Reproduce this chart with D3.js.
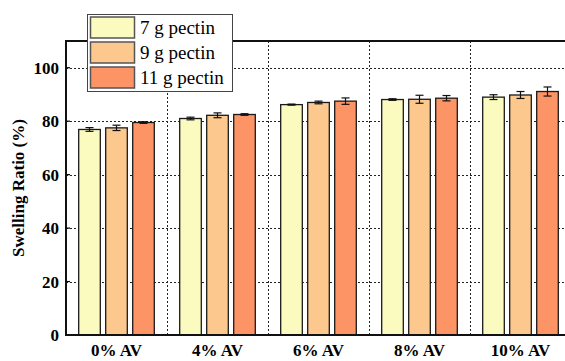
<!DOCTYPE html>
<html>
<head>
<meta charset="utf-8">
<script src="https://cdn.jsdelivr.net/npm/d3@7"></script>
</head>
<body style="margin:0">
<div id="chart"></div>
<script>
var categories = ["0% AV", "4% AV", "6% AV", "8% AV", "10% AV"];
var seriesNames = ["7 g pectin", "9 g pectin", "11 g pectin"];
var seriesColors = ["#fbfbc0", "#fdc88e", "#fd9466"];
var pectin7 = [76.9, 81.0, 86.2, 88.1, 89.0];
var pectin9 = [77.5, 82.2, 87.0, 88.2, 89.8];
var pectin11 = [79.5, 82.5, 87.5, 88.6, 91.1];
var err7 = [0.7, 0.5, 0.2, 0.3, 0.9];
var err9 = [1.0, 0.9, 0.5, 1.5, 1.3];
var err11 = [0.3, 0.3, 1.2, 1.0, 1.7];
var yTicks = [0, 20, 40, 60, 80, 100];

var svgWidth = 565;
var svgHeight = 361;
var margin = { top: 41, left: 66, bottom: 26 };
var plotWidth = 505;
var height = svgHeight - margin.top - margin.bottom;

var svg = d3.select("#chart")
  .append("svg")
  .attr("width", svgWidth)
  .attr("height", svgHeight)
  .attr("font-family", "Times New Roman");

var chartGroup = svg.append("g")
  .attr("transform", `translate(${margin.left}, ${margin.top})`);

// scales
var xScale = d3.scaleBand()
  .domain(categories)
  .range([0, plotWidth]);

var innerScale = d3.scaleBand()
  .domain(seriesNames)
  .range([-40.5, 40.5])
  .paddingInner(0.2)
  .paddingOuter(0.1);

var yScale = d3.scaleLinear()
  .domain([0, 110])
  .range([height, 0]);

// horizontal grid lines
chartGroup.append("g")
  .selectAll("line")
  .data(yTicks.filter(d => d > 0))
  .enter()
  .append("line")
  .attr("x1", 0)
  .attr("x2", plotWidth)
  .attr("y1", d => Math.round(yScale(d)) + 0.5)
  .attr("y2", d => Math.round(yScale(d)) + 0.5)
  .attr("stroke", "#222")
  .attr("stroke-width", 1)
  .attr("stroke-dasharray", "2,2");

// vertical grid lines between groups
chartGroup.append("g")
  .selectAll("line")
  .data(categories.slice(1))
  .enter()
  .append("line")
  .attr("x1", d => Math.round(xScale(d)) + 0.5)
  .attr("x2", d => Math.round(xScale(d)) + 0.5)
  .attr("y1", 0)
  .attr("y2", height)
  .attr("stroke", "#222")
  .attr("stroke-width", 1)
  .attr("stroke-dasharray", "2,2");

// bars
var seriesData = [pectin7, pectin9, pectin11];
var errData = [err7, err9, err11];
var barRows = [];
categories.forEach(function(cat, i) {
  seriesNames.forEach(function(s, j) {
    barRows.push({ cat: cat, series: s, color: seriesColors[j], value: seriesData[j][i], err: errData[j][i] });
  });
});

function barX(d) {
  return xScale(d.cat) + xScale.bandwidth() / 2 + innerScale(d.series);
}

chartGroup.selectAll("rect.bar")
  .data(barRows)
  .enter()
  .append("rect")
  .attr("class", "bar")
  .attr("x", d => barX(d))
  .attr("y", d => yScale(d.value))
  .attr("width", innerScale.bandwidth())
  .attr("height", d => height - yScale(d.value))
  .attr("fill", d => d.color)
  .attr("stroke", "#1a1a1a")
  .attr("stroke-width", 1.3);

// error bars
var errGroup = chartGroup.append("g")
  .attr("stroke", "#111")
  .attr("stroke-width", 1.2);

barRows.forEach(function(d) {
  var cx = barX(d) + innerScale.bandwidth() / 2;
  var yTop = yScale(d.value + d.err);
  var yBot = yScale(d.value - d.err);
  errGroup.append("line").attr("x1", cx).attr("x2", cx).attr("y1", yTop).attr("y2", yBot);
  errGroup.append("line").attr("x1", cx - 4).attr("x2", cx + 4).attr("y1", yTop).attr("y2", yTop);
  errGroup.append("line").attr("x1", cx - 4).attr("x2", cx + 4).attr("y1", yBot).attr("y2", yBot);
});

// y axis ticks (inward) and labels
chartGroup.append("g")
  .selectAll("line")
  .data(yTicks)
  .enter()
  .append("line")
  .attr("x1", 0).attr("x2", 4)
  .attr("y1", d => yScale(d)).attr("y2", d => yScale(d))
  .attr("stroke", "#000").attr("stroke-width", 1.2);

chartGroup.selectAll("text.ytick")
  .data(yTicks)
  .enter()
  .append("text")
  .attr("class", "ytick")
  .attr("x", -7)
  .attr("y", d => yScale(d) + 6)
  .attr("text-anchor", "end")
  .attr("font-family", "Times New Roman")
  .attr("font-size", 17)
  .attr("font-weight", "bold")
  .text(d => d);

// frame lines
chartGroup.append("line")
  .attr("x1", 0).attr("x2", 0).attr("y1", 0).attr("y2", height)
  .attr("stroke", "#111").attr("stroke-width", 2);
chartGroup.append("line")
  .attr("x1", -1).attr("x2", plotWidth).attr("y1", height).attr("y2", height)
  .attr("stroke", "#111").attr("stroke-width", 2);
chartGroup.append("line")
  .attr("x1", -1).attr("x2", plotWidth).attr("y1", 0).attr("y2", 0)
  .attr("stroke", "#111").attr("stroke-width", 2);

// x category labels
chartGroup.selectAll("text.xlabel")
  .data(categories)
  .enter()
  .append("text")
  .attr("class", "xlabel")
  .attr("x", d => xScale(d) + xScale.bandwidth() / 2)
  .attr("y", height + 21)
  .attr("text-anchor", "middle")
  .attr("font-family", "Times New Roman")
  .attr("font-size", 17)
  .attr("font-weight", "bold")
  .text(d => d);

// y axis title
svg.append("text")
  .attr("transform", `translate(24, ${margin.top + height / 2}) rotate(-90)`)
  .attr("text-anchor", "middle")
  .attr("font-family", "Times New Roman")
  .attr("font-size", 17)
  .attr("font-weight", "bold")
  .text("Swelling Ratio (%)");

// legend
var legend = svg.append("g")
  .attr("transform", "translate(87, 14)");

legend.append("rect")
  .attr("x", 0.5).attr("y", 0.5)
  .attr("width", 145).attr("height", 77)
  .attr("fill", "#fff")
  .attr("stroke", "#444")
  .attr("stroke-width", 1);

seriesNames.forEach(function(name, i) {
  legend.append("rect")
    .attr("x", 3.5)
    .attr("y", 3 + i * 25)
    .attr("width", 44)
    .attr("height", 21)
    .attr("fill", seriesColors[i])
    .attr("stroke", "#555")
    .attr("stroke-width", 1.5);
  legend.append("text")
    .attr("x", 53)
    .attr("y", 20 + i * 25)
    .attr("font-family", "Times New Roman")
    .attr("font-size", 19)
    .text(name);
});
</script>
</body>
</html>
